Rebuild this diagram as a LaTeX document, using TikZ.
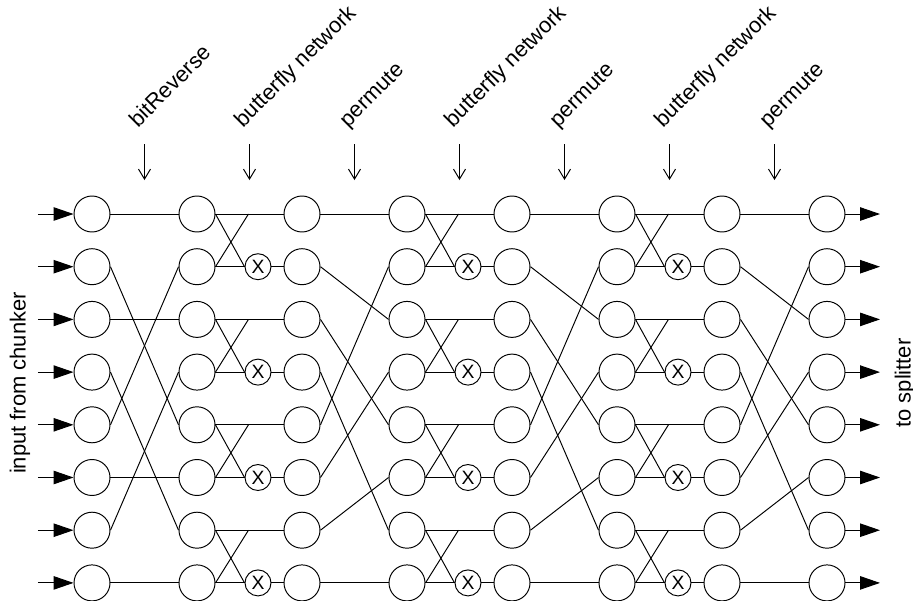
\documentclass[tikz,border=0pt]{standalone}
\usepackage{fontspec}
\setmainfont{Liberation Sans}
\usetikzlibrary{arrows.meta}

\begin{document}
\begin{tikzpicture}
     [
     line width=0.55pt,
     ball/.style={circle, draw=black, fill=white, minimum size=7.2mm, inner sep=0pt},
     xball/.style={circle, draw=black, fill=white, minimum size=5.2mm, inner sep=0pt, font=\fontsize{11}{12}\selectfont},
     inarrow/.style={-{Triangle[length=4mm,width=2.7mm]}},
     downarrow/.style={-{Straight Barb[length=2mm,width=2.4mm]}},
     steplabel/.style={rotate=45, anchor=base west, inner sep=0pt, font=\fontsize{12.5}{14}\selectfont},
     sidelabel/.style={rotate=90, inner sep=0pt, font=\fontsize{12.5}{14}\selectfont},
     ]
 \useasboundingbox (0,0) rectangle (18.26,-12);
 % columns of balls
 \foreach \c in {1,...,8}
   \foreach \r in {1,...,8}
     \node at ({1.84+2.1*(\c-1)},{-4.28-1.054*(\r-1)}) [ball] (n\c\r) {};
 % multiplier balls
 \foreach \s/\c in {1/2,2/4,3/6}
   \foreach \r in {2,4,6,8}
     \node[xball, xshift=1.22cm] at (n\c\r) (x\s\r) {X};
 % inputs and outputs
 \foreach \r in {1,...,8} {
   \coordinate (in\r) at (0.76,{-4.28-1.054*(\r-1)});
   \coordinate (out\r) at (17.6,{-4.28-1.054*(\r-1)});
   \draw[inarrow] (in\r) -- (n1\r.west);
   \draw[inarrow] (n8\r.east) -- (out\r);
 }
 % bitReverse
 \foreach \a/\b in {1/1,2/5,3/3,4/7,5/2,6/6,7/4,8/8}
   \draw (n1\a.east) -- (n2\b.west);
 % butterflies
 \foreach \s/\c/\d in {1/2/3,2/4/5,3/6/7}
   \foreach \r/\q in {1/2,3/4,5/6,7/8} {
     \draw (n\c\r.east) -- (n\d\r.west);
     \draw (n\c\r.east) -- (x\s\q.west);
     \draw (n\c\q.east) -- (x\s\q.west);
     \draw (n\c\q.east) -- (x\s\q.north west |- n\c\r.east);
     \draw (x\s\q.east) -- (n\d\q.west);
   }
 % permutes
 \foreach \c/\d in {3/4,5/6,7/8}
   \foreach \a/\b in {1/1,2/3,3/5,4/7,5/2,6/4,7/6,8/8}
     \draw (n\c\a.east) -- (n\d\b.west);
 % stage labels
 \foreach \i/\t in {1/bitReverse,2/butterfly network,3/permute,4/butterfly network,5/permute,6/butterfly network,7/permute} {
   \coordinate (top\i) at ({2.89+2.1*(\i-1)},-2.88);
   \coordinate (bot\i) at ({2.89+2.1*(\i-1)},-3.6);
   \draw[downarrow] (top\i) -- (bot\i);
   \node[xshift=-1.3mm, yshift=3.1mm, steplabel] at (top\i) (lab\i) {\t};
 }
 \node[sidelabel] at (0.4,-7.66) (inlab) {input from chunker};
 \node[sidelabel] at (18.1,-7.66) (outlab) {to splitter};
 \end{tikzpicture}
\end{document}
